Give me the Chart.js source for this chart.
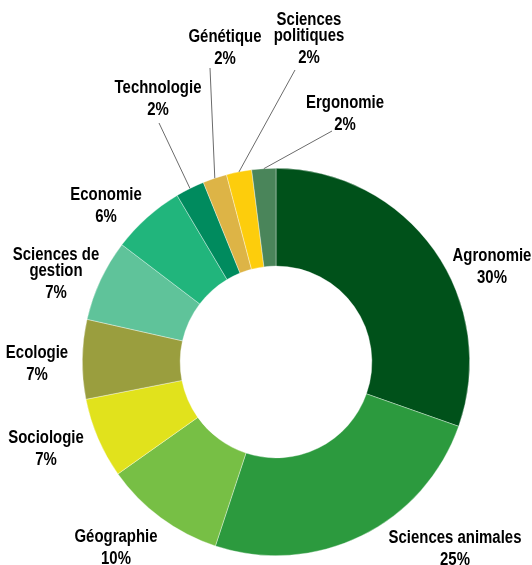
<!DOCTYPE html>
<html>
<head>
    <title>Disciplines</title>
    <script src="https://cdn.jsdelivr.net/npm/chart.js"></script>
    <style>
        body {
            margin: 0;
            background-color: #ffffff;
        }
        #chart {
            display: block;
        }
    </style>
</head>
<body>
    <canvas id="chart" width="532" height="565"></canvas>

    <script>
        // data, clockwise from 12 o'clock
        var categories = ['Agronomie', 'Sciences animales', 'Géographie', 'Sociologie', 'Ecologie',
            'Sciences de gestion', 'Economie', 'Technologie', 'Génétique', 'Sciences politiques', 'Ergonomie'];
        var shares = [30.3, 24.6, 10.1, 6.7, 6.6, 6.8, 6.1, 2.4, 2.0, 2.1, 2.0];
        var colours = ['#00511a', '#2c9a3e', '#77bf45', '#e1e21c', '#9a9e3e',
            '#5fc39a', '#21b57c', '#008b5e', '#ddb446', '#fdcd0c', '#4a855a'];

        // how each label is broken into lines
        var labelLines = [['Agronomie'], ['Sciences animales'], ['Géographie'], ['Sociologie'], ['Ecologie'],
            ['Sciences de', 'gestion'], ['Economie'], ['Technologie'], ['Génétique'], ['Sciences', 'politiques'], ['Ergonomie']];

        // label placement, offset from the doughnut centre (first baseline, text centred)
        var labelSpots = [[216, -101], [179, 181], [-160, 180], [-230, 81], [-239, -4],
            [-220, -102], [-170, -162], [-118, -269], [-51, -320], [33, -337], [69, -254]];
        // leader line start for the small slices (null = no leader)
        var leaderFrom = [null, null, null, null, null, null, null, [-117, -239], [-66, -294], [19, -292], [56, -231]];

        // no Arial Narrow here, so squeeze a bold sans horizontally
        var FONT = 'bold 18px "Liberation Sans", Arial, sans-serif';
        var NARROW = 0.83;

        function narrowText(ctx, text, x, y) {
            ctx.save();
            ctx.translate(x, y);
            ctx.scale(NARROW, 1);
            ctx.fillText(text, 0, 0);
            ctx.restore();
        }

        var labelPlugin = {
            id: 'outsideLabels',
            afterDatasetsDraw: function(chart) {
                var ctx = chart.ctx;
                var meta = chart.getDatasetMeta(0);
                var total = shares.reduce((a, b) => a + b, 0);
                ctx.save();
                meta.data.forEach(function(arc, i) {
                    var cx = arc.x, cy = arc.y;
                    var mid = (arc.startAngle + arc.endAngle) / 2;
                    if (leaderFrom[i]) {
                        var r = arc.outerRadius;
                        ctx.beginPath();
                        ctx.strokeStyle = '#6b6b6b';
                        ctx.lineWidth = 1;
                        ctx.moveTo(cx + leaderFrom[i][0], cy + leaderFrom[i][1]);
                        ctx.lineTo(cx + Math.cos(mid) * r, cy + Math.sin(mid) * r);
                        ctx.stroke();
                    }
                    ctx.font = FONT;
                    ctx.fillStyle = '#000000';
                    ctx.textAlign = 'center';
                    ctx.textBaseline = 'alphabetic';
                    var x = cx + labelSpots[i][0];
                    var y = cy + labelSpots[i][1];
                    labelLines[i].forEach(function(line, k) {
                        narrowText(ctx, line, x, y + k * 16);
                    });
                    var pct = Math.round(shares[i] / total * 100) + '%';
                    narrowText(ctx, pct, x, y + (labelLines[i].length - 1) * 16 + 22);
                });
                ctx.restore();
            }
        };

        var chart = new Chart(document.getElementById('chart').getContext('2d'), {
            type: 'doughnut',
            data: {
                labels: categories,
                datasets: [{
                    data: shares,
                    backgroundColor: colours,
                    borderColor: 'rgba(255,255,255,0.6)',
                    borderWidth: 0.6
                }]
            },
            options: {
                responsive: false,
                animation: false,
                cutout: '49.5%',
                layout: {
                    padding: { left: 82, right: 62, top: 168, bottom: 9 }
                },
                plugins: {
                    legend: { display: false },
                    tooltip: { enabled: false }
                }
            },
            plugins: [labelPlugin]
        });
    </script>
</body>
</html>
